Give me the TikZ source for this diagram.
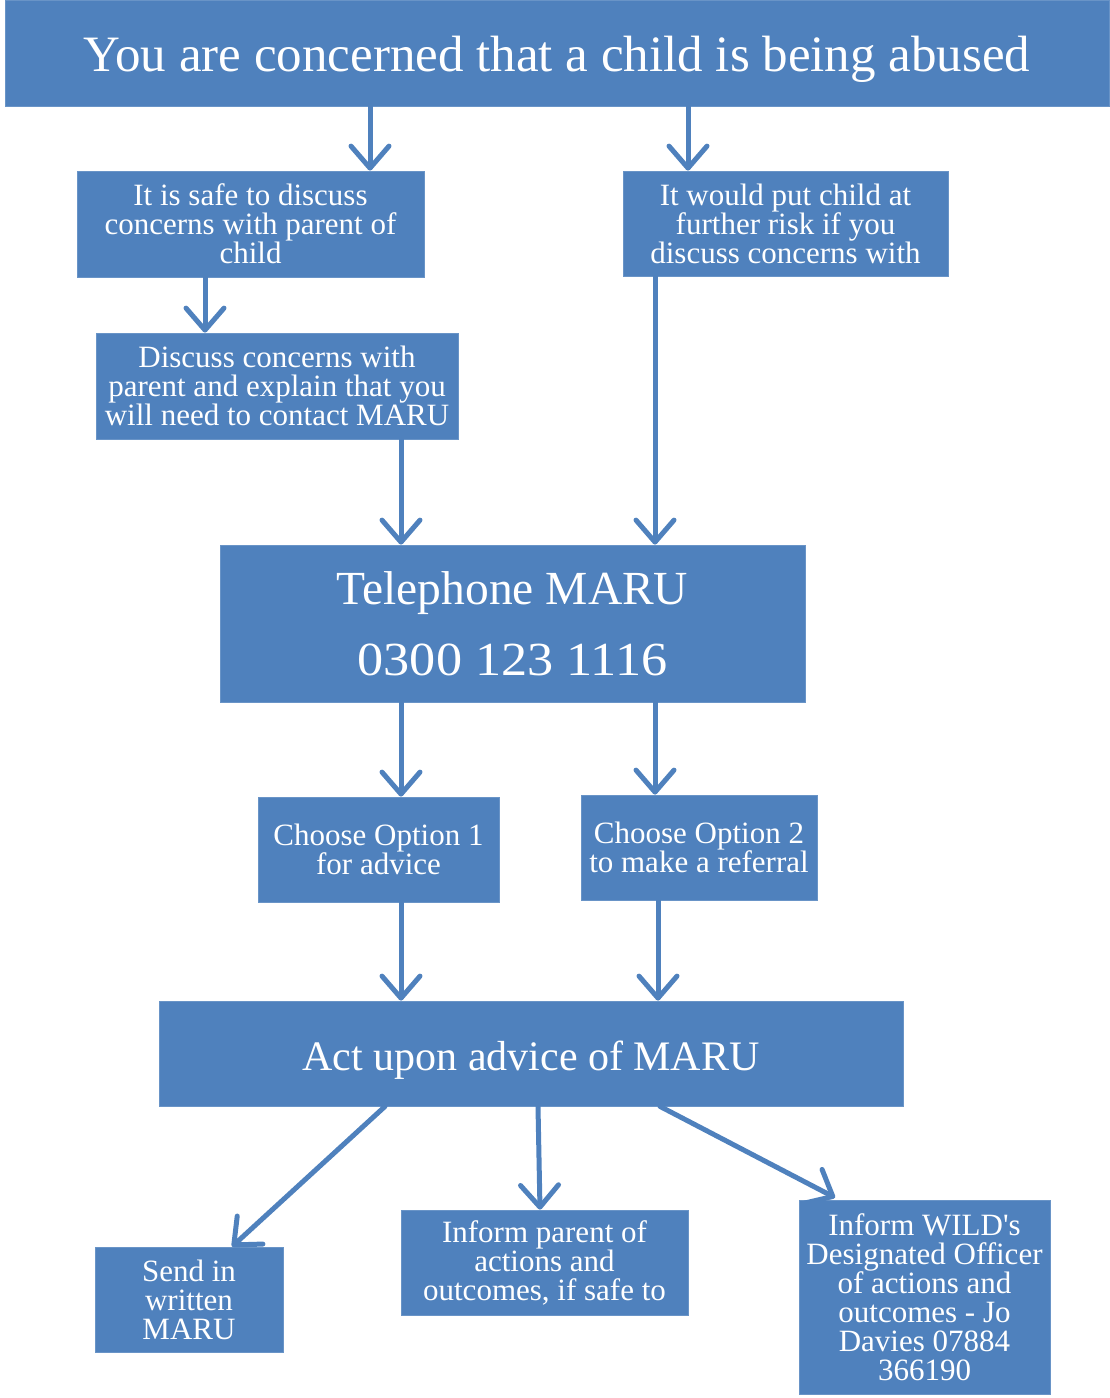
\documentclass[tikz,border=0pt]{standalone}
\usepackage{fontspec}
\setmainfont{Liberation Serif}
\newfontfamily\plainfont{Liberation Serif}
\newfontfamily\widefont{Liberation Serif}[FakeStretch=1.1]
\usetikzlibrary{arrows.meta}
\definecolor{boxblue}{HTML}{4F81BD}
\begin{document}
\begin{tikzpicture}[x=1pt,y=-1pt,
  box/.style={fill=boxblue, draw=boxblue!85!white, line width=0.8pt, text=white, align=center, inner sep=0pt,
    font=\fontsize{31}{29}\selectfont},
  big/.style={font=\fontsize{47.5}{71}\selectfont},
  arr/.style={draw=boxblue, line width=5pt, line cap=round,
    -{Straight Barb[length=22pt,width=38pt,line width=5pt,round]}}]
\useasboundingbox (0,0) rectangle (1109,1398);

\node[box, minimum width=1104pt, minimum height=106pt, font=\fontsize{51}{53}\selectfont,
  text height=36pt, text depth=0pt] (top) at (557,53)
  {You are concerned that a child is being abused};
\node[box, minimum width=347pt, minimum height=106pt] (safe) at (250.5,224)
  {It is safe to discuss\\concerns with parent of\\child};
\node[box, minimum width=325pt, minimum height=105pt] (risk) at (785.5,223.5)
  {It would put child at\\further risk if you\\discuss concerns with};
\node[box, minimum width=362pt, minimum height=106pt] (disc) at (277,386)
  {Discuss concerns with\\parent and explain that you\\will need to contact MARU};
\node[box, big, minimum width=585pt, minimum height=157pt] (tel) at (512.5,623.5)
  {Telephone MARU\\{\widefont 0300 123 1116}};
\node[box, minimum width=241pt, minimum height=105pt] (opt1) at (378.5,849.5)
  {Choose Option 1\\for advice};
\node[box, minimum width=236pt, minimum height=105pt] (opt2) at (699,847.5)
  {Choose Option 2\\to make a referral};
\node[box, minimum width=744pt, minimum height=105pt, font=\fontsize{42}{45}\selectfont,
  text height=33pt, text depth=0pt] (act) at (531,1053.5)
  {Act upon advice of MARU};
\node[box, minimum width=188pt, minimum height=105pt] (send) at (189,1299.5)
  {Send in\\written\\MARU};
\node[box, minimum width=287pt, minimum height=105pt] (infp) at (544.5,1262.5)
  {Inform parent of\\actions and\\outcomes, if safe to};
\node[box, minimum width=251pt, minimum height=194pt] (wild) at (924.5,1297)
  {Inform WILD{\plainfont '}s\\Designated Officer\\of actions and\\outcomes - Jo\\Davies 07884\\366190};

\draw[arr] ([xshift=119.5pt]safe.north |- top.south) -- ([xshift=119.5pt]safe.north);
\draw[arr] ([xshift=-97.5pt]risk.north |- top.south) -- ([xshift=-97.5pt]risk.north);
\draw[arr] ([xshift=-45.5pt]safe.south) -- ([xshift=-45.5pt]safe.south |- disc.north);
\draw[arr] ([xshift=124pt]disc.south) -- ([xshift=124pt]disc.south |- tel.north);
\draw[arr] ([xshift=-130.5pt]risk.south) -- ([xshift=-130.5pt]risk.south |- tel.north);
\draw[arr] ([xshift=22.5pt]opt1.north |- tel.south) -- ([xshift=22.5pt]opt1.north);
\draw[arr] ([xshift=-44pt]opt2.north |- tel.south) -- ([xshift=-44pt]opt2.north);
\draw[arr] ([xshift=22.5pt]opt1.south) -- ([xshift=22.5pt]opt1.south |- act.north);
\draw[arr] ([xshift=-41pt]opt2.south) -- ([xshift=-41pt]opt2.south |- act.north);
\draw[arr] ([xshift=-146pt]act.south) -- ([xshift=43pt]send.north);
\draw[arr] ([xshift=7pt]act.south) -- ([xshift=-4.5pt]infp.north);
\draw[arr] ([xshift=129pt]act.south) -- ([xshift=-89.5pt,yshift=2pt]wild.north);
\end{tikzpicture}
\end{document}
